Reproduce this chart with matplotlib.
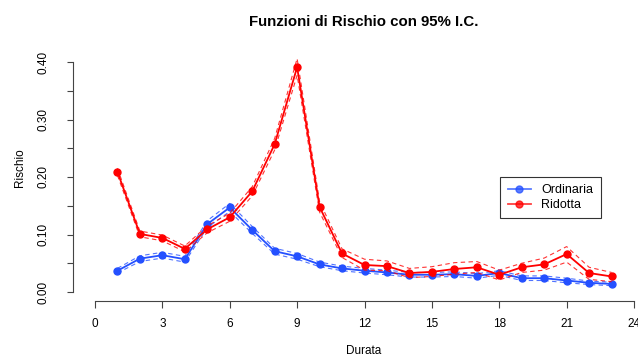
import numpy as np
import matplotlib.pyplot as plt
from matplotlib.lines import Line2D

plt.rcParams['font.family'] = ['Liberation Sans', 'DejaVu Sans']

# durata (mesi)
durata = list(range(1, 24))

# Ordinaria
ord_val = [0.037, 0.058, 0.064, 0.057, 0.118, 0.147, 0.108, 0.071, 0.062, 0.048, 0.041,
           0.037, 0.034, 0.030, 0.030, 0.031, 0.028, 0.033, 0.024, 0.024, 0.020, 0.016, 0.014]
ord_low = [0.033, 0.053, 0.059, 0.052, 0.112, 0.140, 0.102, 0.066, 0.057, 0.044, 0.037,
           0.033, 0.030, 0.026, 0.026, 0.027, 0.024, 0.029, 0.020, 0.020, 0.016, 0.013, 0.011]
ord_up = [0.041, 0.063, 0.069, 0.062, 0.124, 0.154, 0.114, 0.076, 0.067, 0.052, 0.045,
          0.041, 0.038, 0.034, 0.034, 0.035, 0.032, 0.037, 0.028, 0.028, 0.024, 0.019, 0.017]

# Ridotta
rid_val = [0.209, 0.101, 0.094, 0.075, 0.109, 0.130, 0.175, 0.257, 0.391, 0.148, 0.067,
           0.047, 0.045, 0.033, 0.035, 0.040, 0.043, 0.030, 0.043, 0.048, 0.066, 0.033, 0.027]
rid_low = [0.203, 0.096, 0.089, 0.070, 0.103, 0.123, 0.167, 0.247, 0.377, 0.139, 0.060,
           0.038, 0.037, 0.025, 0.027, 0.031, 0.034, 0.021, 0.034, 0.038, 0.052, 0.022, 0.018]
rid_up = [0.215, 0.106, 0.099, 0.080, 0.115, 0.137, 0.183, 0.267, 0.406, 0.157, 0.075,
          0.057, 0.054, 0.041, 0.044, 0.051, 0.053, 0.038, 0.050, 0.059, 0.079, 0.043, 0.034]

xticks = [0, 3, 6, 9, 12, 15, 18, 21, 24]
yticks = [0.0, 0.05, 0.10, 0.15, 0.20, 0.25, 0.30, 0.35, 0.40]
ylabels = ['0.00', '', '0.10', '', '0.20', '', '0.30', '', '0.40']

blue = '#2450ff'
red = '#ff0000'

fig = plt.figure(figsize=(6.38, 3.56), dpi=100)
ax = fig.add_axes([73.4 / 638, 1 - 301.2 / 356, 582.2 / 638, 248.4 / 356])

for val, low, up, col in [(ord_val, ord_low, ord_up, blue), (rid_val, rid_low, rid_up, red)]:
    ax.plot(durata, low, color=col, lw=0.8, ls=(0, (4, 3)), alpha=0.8)
    ax.plot(durata, up, color=col, lw=0.8, ls=(0, (4, 3)), alpha=0.8)
    ax.plot(durata, val, color=col, lw=1.3, marker='o', ms=5)

ax.set_xlim(-0.96, 24.96)
ax.set_ylim(-0.016, 0.416)

for s in ['top', 'right']:
    ax.spines[s].set_visible(False)
ax.spines['bottom'].set_bounds(0, 24)
ax.spines['left'].set_bounds(0, 0.4)
ax.spines['bottom'].set_color('#444444')
ax.spines['left'].set_color('#444444')

ax.set_xticks(xticks)
ax.set_xticklabels([str(t) for t in xticks], fontsize=8.5)
ax.set_yticks(yticks)
ax.set_yticklabels(ylabels, fontsize=8.5, rotation=90, va='center')
ax.tick_params(axis='x', length=5, pad=7, colors='#444444', labelcolor='black')
ax.tick_params(axis='y', length=4, pad=13, colors='#444444', labelcolor='black')

fig.text(364 / 638, 1 - 22 / 356, 'Funzioni di Rischio con 95% I.C.', ha='center', va='center',
         fontsize=10.8, fontweight='bold')
fig.text(364 / 638, 1 - 351 / 356, 'Durata', ha='center', va='center', fontsize=8.5)
fig.text(20 / 638, 1 - 168 / 356, 'Rischio', ha='center', va='center', fontsize=8.5, rotation=90)

handles = [Line2D([], [], color=blue, lw=1.3, marker='o', ms=5, alpha=0.75),
           Line2D([], [], color=red, lw=1.3, marker='o', ms=5, alpha=0.75)]
leg = fig.legend(handles, ['Ordinaria', 'Ridotta'], loc='upper left',
                 bbox_to_anchor=(500 / 638, 1 - 177 / 356), fontsize=9,
                 frameon=True, fancybox=False, edgecolor='black', handlelength=1.9,
                 borderpad=0.6, labelspacing=0.2, handletextpad=0.8, borderaxespad=0)
leg.get_frame().set_linewidth(0.8)

fig.savefig('out.png', dpi=100)
